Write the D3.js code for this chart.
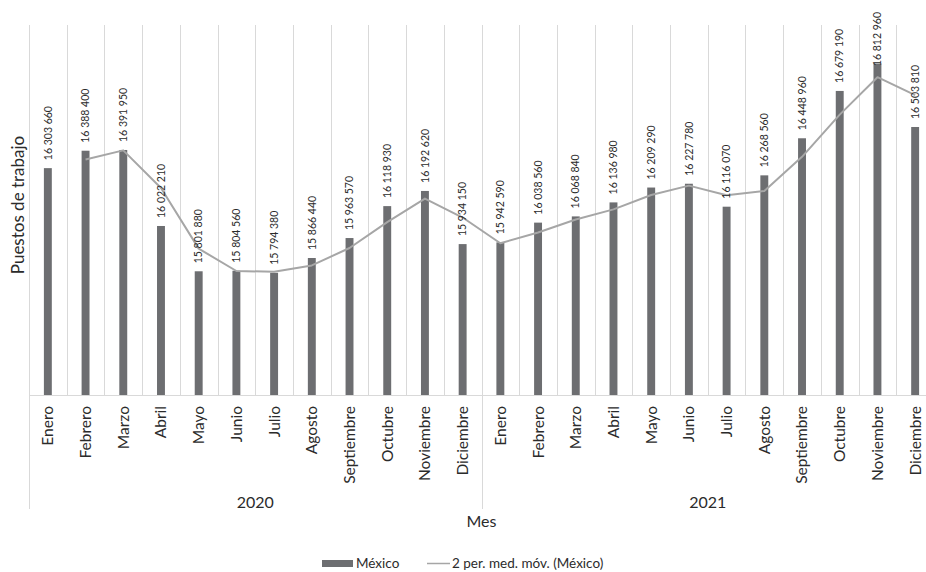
<!DOCTYPE html>
<html>
<head>
<meta charset="utf-8">
<script src="https://cdn.jsdelivr.net/npm/d3@7/dist/d3.min.js"></script>
<style>
  html, body { margin: 0; padding: 0; background: #ffffff; }
  svg { display: block; font-family: Lato, "Open Sans", sans-serif; }
</style>
</head>
<body>
<svg id="chart" width="926" height="572"></svg>
<script>
// Employment by month (Mexico), 2020–2021
const months = ["Enero", "Febrero", "Marzo", "Abril", "Mayo", "Junio", "Julio",
  "Agosto", "Septiembre", "Octubre", "Noviembre", "Diciembre"];
const years = ["2020", "2021"];
const values2020 = [16303660, 16388400, 16391950, 16022210, 15801880, 15804560,
  15794380, 15866440, 15963570, 16118930, 16192620, 15934150];
const values2021 = [15942590, 16038560, 16068840, 16136980, 16209290, 16227780,
  16116070, 16268560, 16448960, 16679190, 16812960, 16503810];
const yDomain = [15200000, 17000000];
const seriesName = "México";
const trendName = "2 per. med. móv. (México)";
const yTitle = "Puestos de trabajo";
const xTitle = "Mes";

const rows = [];
years.forEach((yr, yi) => {
  const vals = yi === 0 ? values2020 : values2021;
  months.forEach((m, mi) => rows.push({ key: yr + "-" + mi, year: yr, month: m, value: vals[mi] }));
});
// two-period moving average, starting with the second point
const trend = rows.slice(1).map((d, i) => ({ key: d.key, value: (rows[i].value + d.value) / 2 }));

const fmt = v => d3.format(",")(v).replace(/,/g, " ");

const svg = d3.select("#chart");
const plot = { left: 29, right: 934, top: 25, bottom: 395 };
const barColor = "#6d6e71";
const lineColor = "#a6a6a6";
const gridColor = "#d9d9d9";
const textColor = "#2b2b2b";

const x = d3.scaleBand().domain(rows.map(d => d.key)).range([plot.left, plot.right]).padding(0);
const y = d3.scaleLinear().domain(yDomain).range([plot.bottom, plot.top]);
const step = x.step();
const barW = step * 0.21;
const cx = k => x(k) + step / 2;
const crisp = v => Math.round(v) + 0.5;

// vertical gridlines at category boundaries
const bounds = rows.map(d => x(d.key)).concat([plot.right]);
svg.append("g").selectAll("line").data(bounds).join("line")
  .attr("x1", d => crisp(d)).attr("x2", d => crisp(d))
  .attr("y1", plot.top).attr("y2", plot.bottom)
  .attr("stroke", gridColor).attr("stroke-width", 1);

// year group separators below the axis
const groupStarts = years.map(yr => x(yr + "-0"));
svg.append("g").selectAll("line").data(groupStarts).join("line")
  .attr("x1", d => crisp(d)).attr("x2", d => crisp(d))
  .attr("y1", plot.bottom).attr("y2", 509)
  .attr("stroke", gridColor).attr("stroke-width", 1);

// category axis line
svg.append("line")
  .attr("x1", plot.left).attr("x2", plot.right)
  .attr("y1", crisp(plot.bottom)).attr("y2", crisp(plot.bottom))
  .attr("stroke", gridColor).attr("stroke-width", 1);

// bars
svg.append("g").selectAll("rect").data(rows).join("rect")
  .attr("x", d => cx(d.key) - barW / 2)
  .attr("width", barW)
  .attr("y", d => y(d.value))
  .attr("height", d => y(yDomain[0]) - y(d.value))
  .attr("fill", barColor);

// moving average line
const line = d3.line().x(d => cx(d.key)).y(d => y(d.value));
svg.append("path").datum(trend)
  .attr("d", line)
  .attr("fill", "none")
  .attr("stroke", lineColor)
  .attr("stroke-width", 2)
  .attr("stroke-linejoin", "round");

// value labels
const labels = svg.append("g").selectAll("text").data(rows).join("text")
  .attr("font-size", 10.5)
  .attr("fill", textColor)
  .attr("text-anchor", "start")
  .attr("dy", "0.35em")
  .text(d => fmt(d.value));
labels.each(function (d) {
  const len = this.getComputedTextLength();
  const base = Math.max(y(d.value) - 8, 12 + len);
  d3.select(this).attr("transform", `translate(${cx(d.key)},${base}) rotate(-90)`);
});

// month labels
svg.append("g").selectAll("text").data(rows).join("text")
  .attr("transform", d => `translate(${cx(d.key)},406) rotate(-90)`)
  .attr("text-anchor", "end")
  .attr("dy", "0.35em")
  .attr("font-size", 15.5)
  .attr("fill", textColor)
  .text(d => d.month);

// year labels
svg.append("g").selectAll("text").data(years).join("text")
  .attr("x", yr => {
    const a = x(yr + "-0");
    const b = x(yr + "-11") + step;
    return (a + b) / 2;
  })
  .attr("y", 508)
  .attr("text-anchor", "middle")
  .attr("font-size", 16)
  .attr("fill", textColor)
  .text(yr => yr);

// axis titles
svg.append("text")
  .attr("x", x(years[1] + "-0")).attr("y", 527)
  .attr("text-anchor", "middle")
  .attr("font-size", 16)
  .attr("fill", textColor)
  .text(xTitle);

svg.append("text")
  .attr("transform", "translate(18,205) rotate(-90)")
  .attr("text-anchor", "middle")
  .attr("dy", "0.35em")
  .attr("font-size", 17)
  .attr("fill", textColor)
  .text(yTitle);

// legend
const lg = svg.append("g");
lg.append("rect").attr("x", 322).attr("y", 560).attr("width", 31).attr("height", 7).attr("fill", barColor);
lg.append("text").attr("x", 356).attr("y", 568).attr("font-size", 13.5).attr("fill", textColor).text(seriesName);
lg.append("line").attr("x1", 427).attr("x2", 450).attr("y1", 563.5).attr("y2", 563.5)
  .attr("stroke", lineColor).attr("stroke-width", 1.5);
lg.append("text").attr("x", 452).attr("y", 568).attr("font-size", 13.5).attr("fill", textColor).text(trendName);
</script>
</body>
</html>
